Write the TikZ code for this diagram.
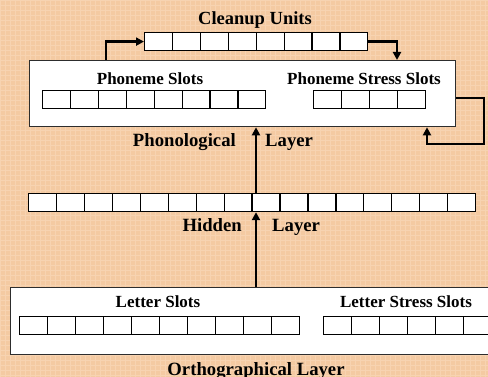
\documentclass[tikz,border=0pt]{standalone}
\usepackage{fontspec}
\setmainfont{Liberation Serif}
\usetikzlibrary{arrows.meta}
\definecolor{peach}{RGB}{244,202,162}
\definecolor{peachlt}{RGB}{249,218,188}
\definecolor{edge}{RGB}{45,45,45}
\begin{document}
\begin{tikzpicture}[x=1pt,y=-1pt,
  cell/.style={draw=black,line width=1.2pt,fill=white,minimum width=27.9pt,
    minimum height=18pt,inner sep=0pt,anchor=north west},
  panel/.style={draw=edge,line width=1.3pt,fill=white,anchor=north west,inner sep=0pt},
  lbl/.style={font=\bfseries\fontsize{17}{20}\selectfont,inner sep=0pt,anchor=base},
  big/.style={lbl,font=\bfseries\fontsize{18.7}{22}\selectfont},
  arr/.style={line width=2.6pt,-{Triangle[length=8pt,width=8pt]}},
  ]
% page and textured background
\useasboundingbox (0,0) rectangle (488,377);
\clip (0,0) rectangle (488,377);
\fill[peach] (0,0) rectangle (488,377);
\draw[peachlt,line width=0.7pt,opacity=0.6,step=5pt] (0,0) grid (488,377);

% cleanup units
\node[big,font=\bfseries\fontsize{18.5}{21}\selectfont] (lcu) at (255,25) {Cleanup Units};
\foreach \i in {1,...,8}
  \node[cell] (c\i) at ({144+27.9*(\i-1)},32) {};

% phonological layer
\node[panel,minimum width=426pt,minimum height=66pt] (phon) at (29,60) {};
\node[lbl] (lps) at (150,85) {Phoneme Slots};
\node[lbl] (lpss) at (364,85) {Phoneme Stress Slots};
\foreach \i in {1,...,8}
  \node[cell] (ps\i) at ({42+27.9*(\i-1)},90) {};
\foreach \i in {1,...,4}
  \node[cell] (pst\i) at ({313+28*(\i-1)},90) {};
\node[big,anchor=base east] (lphon) at (236,147) {Phonological};
\node[big,anchor=base west] (lphl) at (265,147) {Layer};

% hidden layer
\foreach \i in {1,...,16}
  \node[cell] (h\i) at ({28+27.94*(\i-1)},193) {};
\node[big,anchor=base east] (lhid) at (242,232) {Hidden};
\node[big,anchor=base west] (lhil) at (272,232) {Layer};

% orthographical layer
\node[panel,minimum width=500pt,minimum height=67pt] (orth) at (10,287) {};
\node[lbl] (lls) at (158,308) {Letter Slots};
\node[lbl] (llss) at (406,308) {Letter Stress Slots};
\foreach \i in {1,...,10}
  \node[cell] (l\i) at ({19+28*(\i-1)},316) {};
\foreach \i in {1,...,6}
  \node[cell] (ls\i) at ({323+28*(\i-1)},316) {};
\node[big] (lorth) at (256,375) {Orthographical Layer};

% connectors
\coordinate (xa) at (106,0);
\coordinate (xb) at (397,0);
\coordinate (xc) at (427,0);
\coordinate (xm) at (256,0);
\coordinate (yf) at (0,98);
\coordinate (fb1) at (484,98);
\coordinate (fb2) at (484,144);
\draw[arr] (phon.north -| xa) |- (c1.west);
\draw[arr] (c8.east) -| (phon.north -| xb);
\draw[arr] (phon.east |- yf) -- (fb1) -- (fb2) -| (phon.south -| xc);
\draw[arr] (h9.north -| xm) -- (phon.south -| xm);
\draw[arr] (orth.north -| xm) -- (h9.south -| xm);
\end{tikzpicture}
\end{document}
